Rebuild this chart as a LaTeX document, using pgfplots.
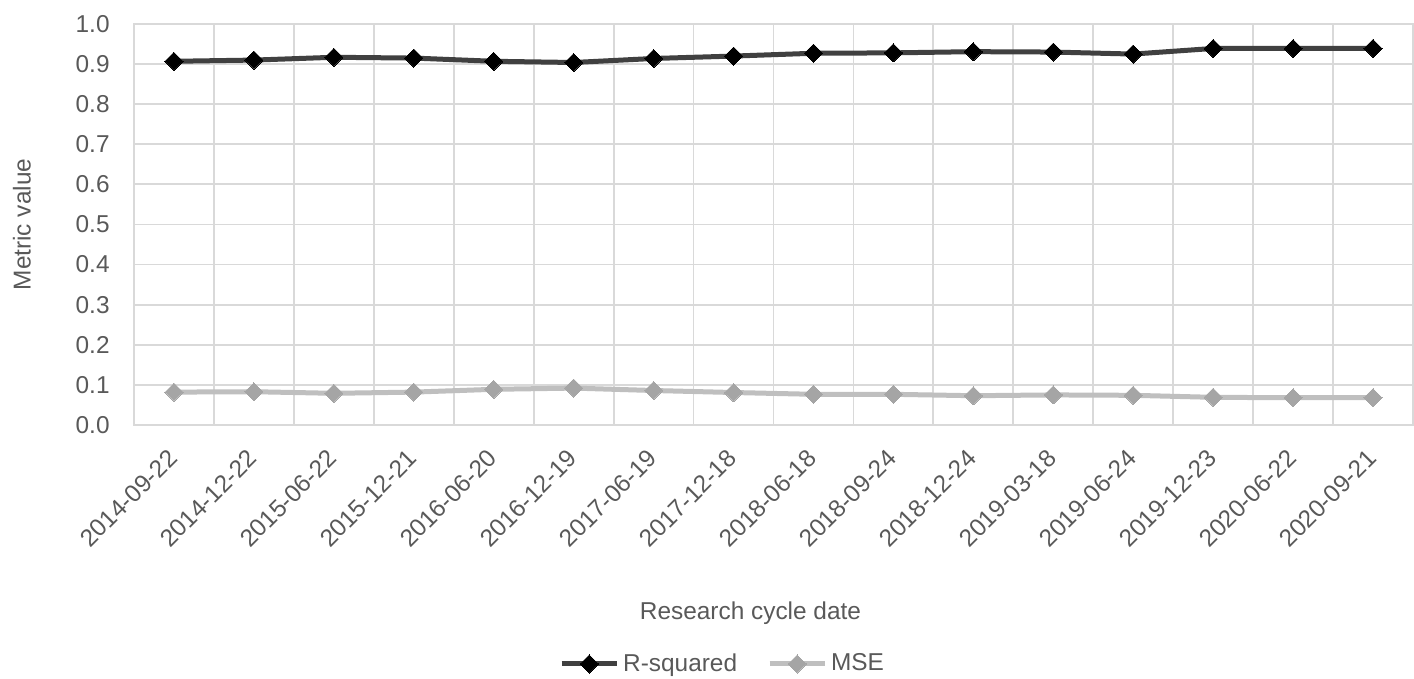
\documentclass[border=0pt]{standalone}
\usepackage{fontspec}
\setmainfont{Liberation Sans}
\usepackage{pgfplots}
\pgfplotsset{compat=1.18}

\definecolor{txtgray}{HTML}{595959}
\definecolor{gridgray}{HTML}{D9D9D9}
\definecolor{rsqline}{HTML}{404040}
\definecolor{mseline}{HTML}{BFBFBF}
\definecolor{msemark}{HTML}{A5A5A5}

\begin{document}
\begin{tikzpicture}
\fontsize{12.2}{14.6}\selectfont
\begin{axis}[
  name=ax,
  scale only axis,
  width=639.5pt, height=200.5pt,
  xmin=-0.5, xmax=15.5,
  ymin=0, ymax=1,
  xtick={0,...,15},
  xticklabels={2014-09-22,2014-12-22,2015-06-22,2015-12-21,2016-06-20,2016-12-19,2017-06-19,2017-12-18,2018-06-18,2018-09-24,2018-12-24,2019-03-18,2019-06-24,2019-12-23,2020-06-22,2020-09-21},
  minor xtick={-0.5,0.5,...,15.5},
  ytick={0,0.1,...,1.0},
  major tick length=0pt, minor tick length=0pt,
  xminorgrids=true, ymajorgrids=true,
  grid style={draw=gridgray, line width=0.9pt},
  minor grid style={draw=gridgray, line width=0.9pt},
  axis line style={draw=gridgray, line width=0.9pt},
  tick label style={text=txtgray, font=\fontsize{12.2}{14.6}\selectfont},
  yticklabel style={/pgf/number format/fixed, /pgf/number format/fixed zerofill,
    /pgf/number format/precision=1, /pgf/number format/assume math mode=true},
  yticklabel style={anchor=east, inner sep=0pt, xshift=-12pt},
  xticklabel style={xshift=-0.5pt, yshift=-14.5pt, rotate=45, anchor=east, inner sep=0pt},
  xlabel={Research cycle date},
  ylabel={Metric value},
  label style={text=txtgray, font=\fontsize{12.2}{14.6}\selectfont},
  xlabel style={at={(axis description cs:0.482,-0.469)}, anchor=center},
  ylabel style={at={(axis description cs:-0.0876,0.5)}, anchor=center, rotate=0},
  legend columns=2,
  legend style={at={(axis description cs:0.461,-0.596)}, anchor=center, draw=none, fill=none,
    text=txtgray, font=\fontsize{12.2}{14.6}\selectfont,
    /tikz/every even column/.append style={column sep=13pt}},
  legend image code/.code={%
    \draw[mark repeat=2, mark phase=2] plot coordinates {(0pt,0pt) (13.75pt,0pt) (27.5pt,0pt)};},
]
\addplot[rsqline, line width=2.5pt, mark=square*, mark size=3.2pt,
  mark options={rotate=45, fill=black, draw=black, line width=0pt}]
  coordinates {
  (0,0.907) (1,0.910) (2,0.917) (3,0.915) (4,0.907) (5,0.904) (6,0.914) (7,0.920)
  (8,0.927) (9,0.928) (10,0.931) (11,0.930) (12,0.925) (13,0.939) (14,0.939) (15,0.939)};
\addlegendentry{R-squared}
\addplot[mseline, line width=2.5pt, mark=square*, mark size=3.2pt,
  mark options={rotate=45, fill=msemark, draw=msemark, line width=0pt}]
  coordinates {
  (0,0.082) (1,0.083) (2,0.079) (3,0.082) (4,0.089) (5,0.092) (6,0.086) (7,0.081)
  (8,0.0765) (9,0.0765) (10,0.073) (11,0.075) (12,0.074) (13,0.069) (14,0.068) (15,0.068)};
\addlegendentry{MSE}
\end{axis}
\pgfresetboundingbox
\path (ax.south west) ++(-67pt,-127pt) rectangle ++(707pt,339.5pt);
\end{tikzpicture}
\end{document}
